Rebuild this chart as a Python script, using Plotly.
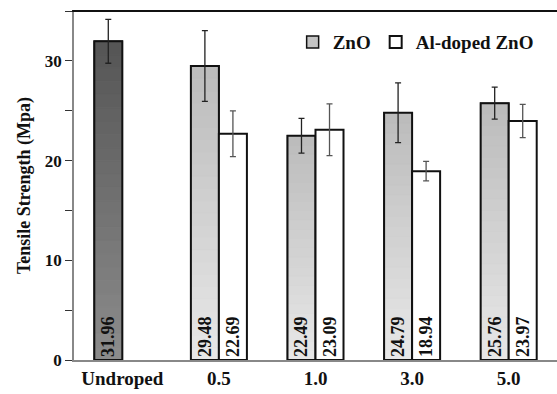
import plotly.graph_objects as go

categories = ["Undroped", "0.5", "1.0", "3.0", "5.0"]
zno_values = [31.96, 29.48, 22.49, 24.79, 25.76]
zno_errors = [2.2, 3.55, 1.75, 3.0, 1.6]
al_values = [None, 22.69, 23.09, 18.94, 23.97]
al_errors = [None, 2.3, 2.6, 0.98, 1.67]
zno_labels = ["31.96", "29.48", "22.49", "24.79", "25.76"]
al_labels = ["", "22.69", "23.09", "18.94", "23.97"]
y_ticks = [0, 10, 20, 30]

FONT = "Liberation Serif"
W = 0.29
N = 24

def lerp(c1, c2, t):
    return "rgb(%d,%d,%d)" % tuple(round(a + (b - a) * t) for a, b in zip(c1, c2))

fig = go.Figure()

# base layer for ZnO (legend swatch)
fig.add_trace(go.Bar(
    x=categories, y=zno_values, width=W, offset=-W, name="ZnO",
    marker=dict(color="#c4c4c4", line=dict(color="#111111", width=1.5)), hoverinfo="skip",
))

# gradient segments
dark_bottom, dark_top = (0x8c, 0x8c, 0x8c), (0x55, 0x55, 0x55)
light_bottom, light_top = (0xe8, 0xe8, 0xe8), (0xbb, 0xbb, 0xbb)
for k in range(N):
    t = (k + 0.5) / N
    cols = [lerp(dark_bottom, dark_top, t) if i == 0 else lerp(light_bottom, light_top, t)
            for i in range(len(categories))]
    fig.add_trace(go.Bar(
        x=categories, y=[v / N for v in zno_values], base=[v * k / N for v in zno_values],
        width=W, offset=-W, marker=dict(color=cols, line=dict(color=cols, width=0.8)),
        showlegend=False, hoverinfo="skip",
    ))

# ZnO outline + labels + error bars
fig.add_trace(go.Bar(
    x=categories, y=zno_values, width=W, offset=-W, showlegend=False,
    marker=dict(color="rgba(0,0,0,0)", line=dict(color="#111111", width=2)),
    text=zno_labels, textposition="inside", insidetextanchor="start", textangle=-90,
    textfont=dict(family=FONT, size=18, color="#111111", weight="bold"),
    error_y=dict(type="data", array=zno_errors, visible=True, color="#222222", thickness=1.3, width=3),
))

# Al-doped ZnO
fig.add_trace(go.Bar(
    x=categories, y=al_values, width=W, offset=0, name="Al-doped ZnO",
    marker=dict(color="white", line=dict(color="#111111", width=2)),
    text=al_labels, textposition="inside", insidetextanchor="start", textangle=-90,
    textfont=dict(family=FONT, size=18, color="#111111", weight="bold"),
    error_y=dict(type="data", array=al_errors, visible=True, color="#555555", thickness=1.3, width=3),
))

fig.update_layout(
    width=557, height=394,
    margin=dict(l=74, r=0, t=11, b=34),
    barmode="overlay",
    plot_bgcolor="white", paper_bgcolor="white",
    font=dict(family=FONT, size=18, color="#111111", weight="bold"),
    legend=dict(
        orientation="h", x=0.962, xanchor="right", y=0.911, yanchor="middle",
        font=dict(family=FONT, size=19, color="#111111", weight="bold"),
        itemwidth=30, bgcolor="rgba(0,0,0,0)", traceorder="normal",
    ),
    showlegend=True,
    shapes=[dict(type="line", xref="paper", yref="paper", x0=-0.004, x1=1, y0=1, y1=1,
                 line=dict(color="#111111", width=2))],
)

fig.update_xaxes(
    type="category", range=[-0.5, 4.5], showline=True, linecolor="#888888", linewidth=1.5,
    ticks="", showgrid=False, tickfont=dict(family=FONT, size=19, weight="bold"),
)
fig.update_yaxes(
    range=[0, 35], tickvals=y_ticks, showline=True, linecolor="#888888", linewidth=1.5,
    ticks="outside", ticklen=7, tickcolor="#333333", showgrid=False, zeroline=False,
    minor=dict(dtick=5, ticks="outside", ticklen=7, tickcolor="#333333"),
    title=dict(text="Tensile Strength (Mpa)", standoff=10,
               font=dict(family=FONT, size=18, weight="bold")),
    tickfont=dict(family=FONT, size=17, weight="bold"),
)

fig.write_html("out.html")
